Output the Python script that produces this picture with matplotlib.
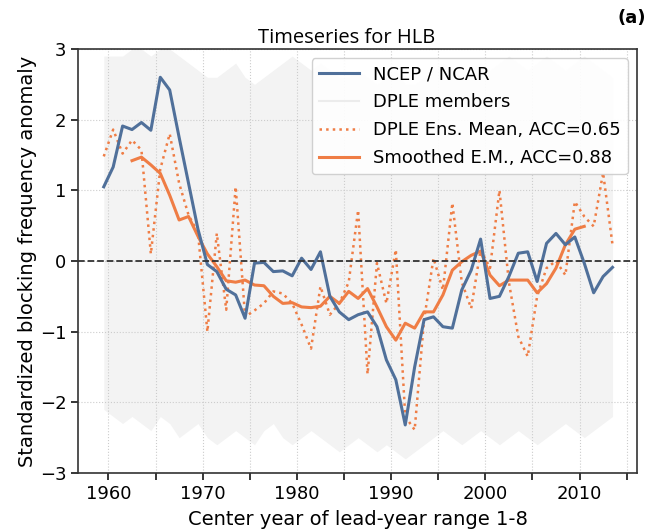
import numpy as np
import matplotlib.pyplot as plt
from matplotlib.ticker import MultipleLocator

# center years of the 1-8 lead-year range
years = np.arange(1959.5, 2014.5, 1.0)

# NCEP / NCAR reanalysis, standardized HLB blocking frequency
ncep = [1.05, 1.33, 1.91, 1.86, 1.96, 1.85, 2.60, 2.42, 1.75, 1.10,
        0.45, -0.05, -0.15, -0.40, -0.48, -0.81, -0.03, -0.02, -0.15, -0.14,
        -0.21, 0.04, -0.12, 0.13, -0.50, -0.72, -0.83, -0.76, -0.72, -0.93,
        -1.40, -1.68, -2.32, -1.50, -0.83, -0.79, -0.93, -0.95, -0.41, -0.13,
        0.31, -0.53, -0.50, -0.22, 0.11, 0.13, -0.29, 0.25, 0.39, 0.23,
        0.34, -0.03, -0.45, -0.22, -0.09]

# DPLE ensemble mean
ens_mean = [1.48, 1.86, 1.52, 1.71, 1.57, 0.10, 1.30, 1.80, 1.10, 0.65,
            0.40, -1.00, 0.39, -0.69, 1.05, -0.79, -0.70, -0.60, -0.43, -0.46,
            -0.60, -0.90, -1.24, -0.36, -0.76, -0.60, -0.30, 0.72, -1.60, -0.03,
            -0.60, 0.16, -2.20, -2.39, -0.83, 0.04, -0.41, 0.82, -0.30, -0.67,
            0.16, -0.10, 1.00, -0.30, -1.07, -1.35, -0.50, -0.10, 0.00, -0.20,
            0.84, 0.63, 0.49, 1.25, 0.23]

# smoothed ensemble mean
smooth_years = np.arange(1962.5, 2011.5, 1.0)
smoothed = [1.42, 1.47, 1.36, 1.24, 0.93, 0.58, 0.63, 0.35, 0.10, -0.08,
            -0.28, -0.30, -0.27, -0.34, -0.35, -0.50, -0.60, -0.59, -0.65, -0.66,
            -0.64, -0.50, -0.60, -0.43, -0.53, -0.39, -0.65, -0.93, -1.12, -0.88,
            -0.95, -0.72, -0.72, -0.48, -0.13, -0.01, 0.08, 0.14, -0.20, -0.35,
            -0.27, -0.27, -0.27, -0.45, -0.32, -0.10, 0.23, 0.45, 0.49]

# spread of the individual DPLE members (upper / lower envelope)
members_hi = [2.9, 2.9, 2.9, 3.0, 3.0, 2.9, 3.0, 3.0, 2.9, 2.8,
              2.7, 2.6, 2.6, 2.7, 2.8, 2.6, 2.5, 2.6, 2.7, 2.8,
              2.9, 2.8, 2.7, 2.8, 2.7, 2.6, 2.6, 2.7, 2.6, 2.5,
              2.6, 2.7, 2.5, 2.5, 2.6, 2.7, 2.8, 2.7, 2.6, 2.7,
              2.8, 2.7, 2.8, 2.9, 2.8, 2.7, 2.8, 2.9, 2.8, 2.7,
              2.8, 2.9, 2.8, 2.7, 2.6]
members_lo = [-2.1, -2.2, -2.3, -2.2, -2.3, -2.4, -2.2, -2.3, -2.5, -2.4,
              -2.3, -2.5, -2.6, -2.5, -2.4, -2.5, -2.6, -2.4, -2.3, -2.5,
              -2.6, -2.5, -2.4, -2.5, -2.6, -2.7, -2.6, -2.5, -2.6, -2.7,
              -2.6, -2.7, -2.8, -2.7, -2.6, -2.5, -2.4, -2.5, -2.6, -2.5,
              -2.4, -2.5, -2.6, -2.5, -2.4, -2.5, -2.6, -2.5, -2.4, -2.3,
              -2.4, -2.5, -2.4, -2.3, -2.2]

blue = '#50709a'
orange = '#ef7d45'

plt.rcParams['font.family'] = 'DejaVu Sans'
fig = plt.figure(figsize=(6.51, 5.32), dpi=100)
ax = fig.add_axes([0.1203, 0.1109, 0.8582, 0.7970])

ax.fill_between(years, members_lo, members_hi, color='#f3f3f3', lw=0, zorder=1)
ax.plot([], [], color='#ececec', lw=1.5, label='DPLE members')
ax.plot(years, ncep, color=blue, lw=2.2, zorder=4, label='NCEP / NCAR')
ax.plot(years, ens_mean, color=orange, lw=1.8, ls=':', zorder=3,
        label='DPLE Ens. Mean, ACC=0.65')
ax.plot(smooth_years, smoothed, color=orange, lw=2.2, zorder=3,
        label='Smoothed E.M., ACC=0.88')
ax.axhline(0, color='#333333', ls='--', lw=1.3, zorder=5)

ax.set_xlim(1956.8, 2016.1)
ax.set_ylim(-3, 3)
ax.xaxis.set_major_locator(MultipleLocator(10))
ax.xaxis.set_minor_locator(MultipleLocator(5))
ax.yaxis.set_major_locator(MultipleLocator(1))
ax.tick_params(which='both', labelsize=13, length=5, width=1.1)
ax.grid(which='both', axis='x', color='#cccccc', ls=':', lw=0.8, zorder=0)
ax.grid(which='major', axis='y', color='#cccccc', ls=':', lw=0.8, zorder=0)
for s in ax.spines.values():
    s.set_linewidth(1.2)
    s.set_color('#333333')

ax.set_xlabel('Center year of lead-year range 1-8', fontsize=14, labelpad=5)
ax.set_ylabel('Standardized blocking frequency anomaly', fontsize=14, labelpad=2)
ax.set_title('Timeseries for HLB', fontsize=14.5, family='Open Sans', pad=4, x=0.48)
fig.text(0.993, 0.967, '(a)', fontsize=13, fontweight='bold', ha='right', va='center')

handles, labels = ax.get_legend_handles_labels()
order = [1, 0, 2, 3]
ax.legend([handles[i] for i in order], [labels[i] for i in order],
          loc='upper right', fontsize=13, framealpha=0.9,
          handlelength=2.2, labelspacing=0.55, borderaxespad=0.5)

fig.savefig('out.png', dpi=100)
